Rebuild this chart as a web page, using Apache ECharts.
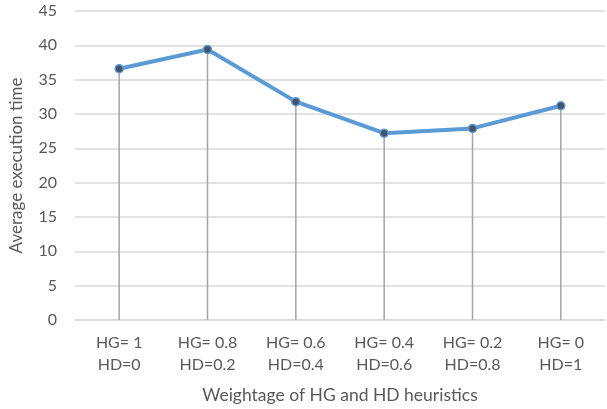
<!DOCTYPE html>
<html>
<head>
<meta charset="utf-8">
<script src="https://cdn.jsdelivr.net/npm/echarts@6/dist/echarts.min.js"></script>
<style>
html,body{margin:0;padding:0;background:#fff;}
#con{width:607px;height:409px;}
</style>
</head>
<body>
<div id="con"></div>
<script>
var weights = ['HG= 1\nHD=0', 'HG= 0.8\nHD=0.2', 'HG= 0.6\nHD=0.4',
	'HG= 0.4\nHD=0.6', 'HG= 0.2\nHD=0.8', 'HG= 0\nHD=1'];
var execTime = [36.6, 39.4, 31.8, 27.2, 27.9, 31.2];
var yTicks = [0, 45, 5];//min, max, interval

var myChart = echarts.init(document.getElementById('con'));
var font = 'Lato';

var option = {
	animation: false,
	grid: {
		left: 73,
		right: 2,
		top: 11,
		bottom: 87
	},
	xAxis: {
		type: 'category',
		data: weights,
		boundaryGap: true,
		name: 'Weightage of HG and HD heuristics',
		nameLocation: 'middle',
		nameGap: 66,
		nameTextStyle: {color: '#595959', fontSize: 17.5, fontFamily: font},
		axisLine: {show: true, lineStyle: {color: '#d9d9d9', width: 1.5}},
		axisTick: {show: false},
		axisLabel: {
			color: '#595959',
			fontSize: 16,
			fontFamily: font,
			lineHeight: 22,
			margin: 12,
			interval: 0
		}
	},
	yAxis: {
		type: 'value',
		min: yTicks[0],
		max: yTicks[1],
		interval: yTicks[2],
		name: 'Average execution time',
		nameLocation: 'middle',
		nameGap: 50,
		nameTextStyle: {color: '#595959', fontSize: 17, fontFamily: font},
		axisLine: {show: false},
		axisTick: {show: false},
		axisLabel: {color: '#595959', fontSize: 16, fontFamily: font, margin: 18},
		splitLine: {lineStyle: {color: '#d9d9d9', width: 1.5}}
	},
	series: [{
		//竖线
		type: 'bar',
		data: execTime,
		barWidth: 1.5,
		barGap: '-100%',
		itemStyle: {color: '#a5a5a5'},
		silent: true
	}, {
		type: 'line',
		data: execTime,
		symbol: 'circle',
		symbolSize: 8,
		lineStyle: {color: '#5b9bd5', width: 4},
		itemStyle: {color: '#44546a', borderColor: '#5b9bd5', borderWidth: 1.5},
		z: 5
	}]
};

myChart.setOption(option);
</script>
</body>
</html>
